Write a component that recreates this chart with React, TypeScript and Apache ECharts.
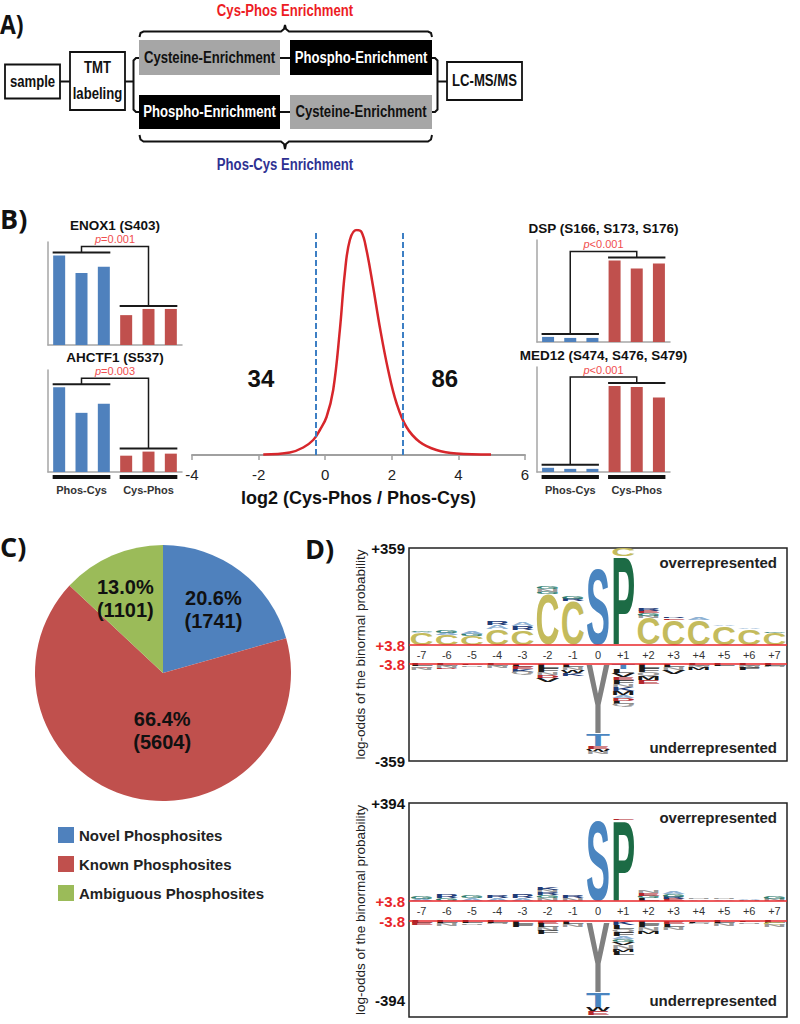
import React, { useEffect, useRef } from "react";
import * as echarts from "echarts";

const FONT = '"Liberation Sans", Arial, Helvetica, sans-serif';
const BLUE = "#4f81bd";
const RED = "#c0504d";
const GREEN = "#9bbb59";

// ---------------- Panel B : bar charts ----------------
const barCategories = ["Phos-Cys 1", "Phos-Cys 2", "Phos-Cys 3", "Cys-Phos 1", "Cys-Phos 2", "Cys-Phos 3"];
const enox1Values = [87, 70, 76, 29, 35, 35];
const ahctf1Values = [83, 58, 67, 16, 20, 18];
const dspValues = [5, 4, 4, 80, 72, 77];
const med12Values = [4, 3, 3, 82, 81, 71];
const barTitles = ["ENOX1 (S403)", "AHCTF1 (S537)", "DSP (S166, S173, S176)", "MED12 (S474, S476, S479)"];
const barPValues = ["p=0.001", "p=0.003", "p<0.001", "p<0.001"];

// ---------------- Panel B : density ----------------
const densityX = [-1.86, -1.06, -0.66, -0.36, -0.16, 0.04, 0.24, 0.44, 0.59, 0.74, 0.94, 1.09, 1.24, 1.44, 1.64, 1.89, 2.14, 2.44, 2.84, 3.34, 3.94, 4.98];
const densityY = [0.001, 0.005, 0.015, 0.03, 0.05, 0.076, 0.13, 0.25, 0.364, 0.43, 0.45, 0.446, 0.41, 0.336, 0.256, 0.17, 0.104, 0.056, 0.026, 0.01, 0.003, 0.001];
const cutoffs = [-0.28, 2.33];
const countLabels = [34, 86];
const xTicks = [-4, -2, 0, 2, 4, 6];

// ---------------- Panel C : pie ----------------
const pieNames = ["Novel Phosphosites", "Known Phosphosites", "Ambiguous Phosphosites"];
const pieValues = [1741, 5604, 1101];

// ---------------- Panel D : sequence logos ----------------
const logoPositions = ["-7", "-6", "-5", "-4", "-3", "-2", "-1", "0", "+1", "+2", "+3", "+4", "+5", "+6", "+7"];

type Stack = [string, number][];
const logo1Up: Stack[] = [
  [["C", 11.5], ["A", 1.8], ["G", 1.5]],
  [["C", 10], ["A", 2], ["G", 2]],
  [["C", 9], ["G", 2], ["A", 2]],
  [["C", 16], ["A", 3.5], ["R", 3.5]],
  [["C", 15], ["R", 4], ["A", 4]],
  [["C", 51], ["G", 2], ["N", 3], ["G", 3]],
  [["C", 43.6], ["R", 2], ["G", 3]],
  [["S", 77]],
  [["P", 89], ["C", 8]],
  [["C", 27], ["N", 2], ["G", 2.5], ["E", 2.5], ["R", 2]],
  [["C", 25], ["E", 1.5], ["R", 1.5]],
  [["C", 25], ["A", 2.5]],
  [["C", 19], ["A", 1.5]],
  [["C", 16], ["A", 1.5]],
  [["C", 12], ["G", 1.5]],
];
const logo1Down: Stack[] = [
  [["L", 2.5], ["E", 1.5], ["N", 2]],
  [["L", 2], ["N", 2], ["D", 1.5]],
  [["L", 1.5], ["N", 1.5]],
  [["L", 2], ["N", 2]],
  [["L", 3], ["E", 2.5], ["K", 2.5], ["Q", 2]],
  [["L", 4], ["F", 4], ["N", 3], ["D", 3], ["V", 3.6]],
  [["L", 3], ["N", 3], ["W", 3], ["K", 3]],
  [["Y", 70], ["T", 12], ["E", 3], ["W", 3], ["N", 2.3]],
  [["T", 5], ["L", 4], ["V", 4], ["E", 3], ["F", 4], ["N", 3], ["K", 4], ["M", 4], ["A", 3], ["D", 3], ["L", 3], ["Q", 2]],
  [["L", 4], ["F", 4], ["Q", 4], ["M", 4], ["E", 4]],
  [["L", 3], ["N", 3], ["V", 3.7]],
  [["L", 2], ["N", 2], ["M", 2]],
  [["L", 2]],
  [["L", 2], ["N", 2], ["F", 2]],
  [["L", 2], ["N", 1.5]],
];
const logo2Up: Stack[] = [
  [["A", 2], ["G", 2]],
  [["G", 2.5], ["R", 3.2]],
  [["A", 2.5], ["G", 2.5]],
  [["A", 3], ["R", 2.7]],
  [["A", 3], ["R", 3.3]],
  [["N", 3], ["G", 3], ["R", 3], ["N", 2], ["K", 3]],
  [["N", 2.5], ["R", 2.2]],
  [["S", 80.7]],
  [["P", 80.7], ["E", 1.5]],
  [["L", 2.5], ["G", 2.5], ["E", 2.5], ["N", 2.5]],
  [["E", 2], ["R", 2], ["G", 2.5], ["A", 2.5]],
  [["A", 1.5], ["N", 1.5]],
  [["A", 1.8], ["N", 1.5]],
  [["N", 1.3], ["A", 1]],
  [["N", 2], ["G", 2.7]],
];
const logo2Down: Stack[] = [
  [["L", 2], ["E", 2.3]],
  [["L", 2.5], ["N", 2.8]],
  [["L", 2], ["N", 1.7]],
  [["L", 2], ["N", 1.3]],
  [["L", 3], ["F", 3]],
  [["E", 3], ["L", 3.3], ["N", 3.5], ["F", 3.5]],
  [["L", 3], ["N", 3]],
  [["Y", 72], ["T", 14.7], ["W", 3.7], ["E", 4]],
  [["K", 4], ["L", 4], ["Q", 3], ["F", 4], ["A", 3], ["G", 3], ["V", 3], ["N", 4], ["M", 3], ["L", 3.3]],
  [["L", 3], ["F", 3], ["N", 3.7], ["M", 3]],
  [["E", 3], ["L", 3], ["N", 2.7]],
  [["L", 1.8], ["N", 1.5]],
  [["L", 2.5], ["N", 2.2]],
  [["L", 1.5], ["N", 1.2]],
  [["L", 2], ["C", 2], ["N", 2]],
];
// axis scale (display units), thresholds and tick labels of the two logos
const logo1Range = 106.5;
const logo1Threshold = 9.5;
const logo1TickValues = [106.5, 9.5, -9.5, -106.5];
const logo1TickLabels = ["+359", "+3.8", "-3.8", "-359"];
const logo2Min = -106;
const logo2Max = 108;
const logo2Threshold = 10;
const logo2TickValues = [108, 10, -10, -89];
const logo2TickLabels = ["+394", "+3.8", "-3.8", "-394"];

const AA_COLOR: Record<string, string> = {
  C: "#c4bb5c", S: "#4a85c0", T: "#4a85c0", P: "#1c6b45", Y: "#808080",
  G: "#2e7d6f", A: "#8fb2d4", R: "#1f3c78", K: "#1f3c78", H: "#1f3c78",
  D: "#b3262b", E: "#b3262b", L: "#1a1a1a", V: "#1a1a1a", I: "#1a1a1a",
  M: "#1a1a1a", F: "#1a1a1a", W: "#1a1a1a", N: "#9a9a9a", Q: "#9a9a9a",
};
const AA_WIDTH: Record<string, number> = {
  C: 0.722, S: 0.667, T: 0.611, P: 0.667, Y: 0.667, G: 0.778, A: 0.722, R: 0.722,
  K: 0.722, H: 0.722, D: 0.722, E: 0.667, L: 0.611, V: 0.667, I: 0.5, M: 0.833,
  F: 0.611, W: 0.944, N: 0.722, Q: 0.778,
};

type Row = [number, number, number, string];
function buildRows(up: Stack[], down: Stack[], base: number): Row[] {
  const rows: Row[] = [];
  up.forEach((stack, i) => {
    let y = base;
    stack.forEach(([l, h]) => {
      rows.push([i, y, y + h, l]);
      y += h;
    });
  });
  down.forEach((stack, i) => {
    let y = -base;
    stack.forEach(([l, h]) => {
      rows.push([i, y - h, y, l]);
      y -= h;
    });
  });
  return rows;
}

function centeredText(text: string, x: number, y: number, size: number, fill: string, weight = "normal") {
  return {
    type: "text",
    x,
    y,
    silent: true,
    style: {
      text,
      fontSize: size,
      fontWeight: weight,
      fontFamily: FONT,
      fill,
      align: "center",
      textAlign: "center",
      verticalAlign: "middle",
      textVerticalAlign: "middle",
    },
  };
}

function letterRenderer(rows: Row[]) {
  return (params: any, api: any) => {
    const r = rows[params.dataIndex];
    const p0 = api.coord([r[0], r[1]]);
    const p1 = api.coord([r[0], r[2]]);
    const bw = api.size([1, 0])[0];
    const h = Math.abs(p0[1] - p1[1]);
    const F = 100;
    const adv = AA_WIDTH[r[3]] ?? 0.7;
    const el: any = centeredText(r[3], p0[0], (p0[1] + p1[1]) / 2, F, AA_COLOR[r[3]] ?? "#333", "bold");
    el.scaleX = (0.95 * bw) / (F * adv);
    el.scaleY = h / (F * 0.716);
    return el;
  };
}

function labelRenderer(labels: (string | number)[], size: number, fill: string, weight: string) {
  return (params: any, api: any) => {
    const p = api.coord([api.value(0), api.value(1)]);
    return centeredText(String(labels[params.dataIndex]), p[0], p[1], size, fill, weight);
  };
}

function bracketRenderer(values: number[], title: string, pText: string, isBottom: boolean) {
  return (params: any, api: any) => {
    const cs = params.coordSys;
    const xs = values.map((_, i) => api.coord([i, 0])[0]);
    const yBase = api.coord([0, 0])[1];
    const half = 6.5;
    const blueMax = Math.max(...values.slice(0, 3));
    const redMax = Math.max(...values.slice(3));
    const yB = api.coord([0, blueMax])[1] - 3;
    const yR = api.coord([0, redMax])[1] - 3;
    const yTop = Math.min(yB, yR) - 6;
    const pY = yTop - 7;
    const titleY = Math.min(cs.y - 12, pY - 14);
    const ls = { stroke: "#1a1a1a", lineWidth: 2, fill: null };
    const pColor = "#f04e4e";
    const children: any[] = [
      { type: "line", shape: { x1: xs[0] - half, y1: yB, x2: xs[2] + half, y2: yB }, style: ls },
      { type: "line", shape: { x1: xs[3] - half, y1: yR, x2: xs[5] + half, y2: yR }, style: ls },
      {
        type: "polyline",
        shape: { points: [[xs[1], yB], [xs[1], yTop], [xs[4], yTop], [xs[4], yR]] },
        style: { stroke: "#1a1a1a", lineWidth: 1.5, fill: null },
      },
      {
        type: "text",
        x: (xs[1] + xs[4]) / 2,
        y: pY,
        style: {
          text: `{i|p}{n|${pText.slice(1)}}`,
          rich: {
            i: { fontSize: 11, fontStyle: "italic", fontFamily: FONT, fill: pColor },
            n: { fontSize: 11, fontFamily: FONT, fill: pColor },
          },
          align: "center",
          textAlign: "center",
          verticalAlign: "middle",
          textVerticalAlign: "middle",
        },
      },
      centeredText(title, cs.x + cs.width / 2, titleY, 13.5, "#111", "bold"),
    ];
    if (isBottom) {
      const thick = { stroke: "#111", lineWidth: 4, fill: null };
      children.push({ type: "line", shape: { x1: xs[0] - half, y1: yBase + 5, x2: xs[2] + half, y2: yBase + 5 }, style: thick });
      children.push({ type: "line", shape: { x1: xs[3] - half, y1: yBase + 5, x2: xs[5] + half, y2: yBase + 5 }, style: thick });
    }
    return { type: "group", children };
  };
}

function txt(text: string, x: number, y: number, o: any = {}) {
  const align = o.align ?? "center";
  return {
    type: "text",
    x,
    y,
    scaleX: o.sx ?? 1,
    silent: true,
    style: {
      text,
      fill: o.fill ?? "#111",
      fontSize: o.size ?? 16,
      fontWeight: o.weight ?? "bold",
      fontFamily: o.family ?? FONT,
      align,
      textAlign: align,
      verticalAlign: "middle",
      textVerticalAlign: "middle",
    },
  };
}

function buildOption(): any {
  const NARROW = 0.82;
  const lineS = { stroke: "#111", lineWidth: 2, fill: null };
  const boxS = { stroke: "#111", lineWidth: 1.8, fill: "#fff" };
  const PANEL_FONT = '"Open Sans", ' + FONT;
  const graphics: any[] = [
    // panel letters
    txt("A)", 0, 23, { size: 27, align: "left", family: PANEL_FONT, sx: 0.85 }),
    txt("B)", 0, 218, { size: 27, align: "left", family: PANEL_FONT }),
    txt("C)", 0, 546, { size: 27, align: "left", family: PANEL_FONT }),
    txt("D)", 305, 548, { size: 27, align: "left", family: PANEL_FONT }),
    // panel A
    txt("Cys-Phos Enrichment", 285, 11, { fill: "#ed1c24", sx: NARROW }),
    txt("Phos-Cys Enrichment", 285, 165, { fill: "#2e3192", sx: NARROW }),
    {
      type: "polyline", silent: true,
      shape: { points: [[139.5, 37], [140.5, 33], [143.5, 31.5], [281, 31.5], [284, 29], [285, 25], [286, 29], [289, 31.5], [428, 31.5], [431, 33], [432, 37]] },
      style: lineS,
    },
    {
      type: "polyline", silent: true,
      shape: { points: [[139.5, 135], [140.5, 139.5], [143.5, 141.5], [281, 141.5], [284, 144], [285, 149], [286, 144], [289, 141.5], [428, 141.5], [431, 139.5], [432, 135]] },
      style: lineS,
    },
    { type: "rect", silent: true, shape: { x: 5, y: 64.5, width: 55, height: 34 }, style: boxS },
    txt("sample", 32.5, 81.5, { sx: NARROW }),
    { type: "line", silent: true, shape: { x1: 60, y1: 81.5, x2: 70, y2: 81.5 }, style: lineS },
    { type: "rect", silent: true, shape: { x: 70, y: 52, width: 55, height: 58 }, style: boxS },
    txt("TMT", 97.5, 68, { sx: NARROW }),
    txt("labeling", 97.5, 94, { sx: NARROW }),
    { type: "line", silent: true, shape: { x1: 125, y1: 81.5, x2: 133.5, y2: 81.5 }, style: lineS },
    {
      type: "polyline", silent: true,
      shape: { points: [[139, 58], [136, 58], [133.5, 60.5], [133.5, 109.5], [136, 112], [139, 112]] },
      style: lineS,
    },
    { type: "rect", silent: true, shape: { x: 139, y: 40, width: 141, height: 35 }, style: { fill: "#a6a6a6" } },
    txt("Cysteine-Enrichment", 209.5, 57.5, { sx: NARROW }),
    { type: "line", silent: true, shape: { x1: 280, y1: 58, x2: 290, y2: 58 }, style: lineS },
    { type: "rect", silent: true, shape: { x: 290, y: 40, width: 142, height: 35 }, style: { fill: "#000" } },
    txt("Phospho-Enrichment", 361, 57.5, { sx: NARROW, fill: "#fff" }),
    { type: "rect", silent: true, shape: { x: 139, y: 95, width: 141, height: 34 }, style: { fill: "#000" } },
    txt("Phospho-Enrichment", 209.5, 112, { sx: NARROW, fill: "#fff" }),
    { type: "line", silent: true, shape: { x1: 280, y1: 112, x2: 290, y2: 112 }, style: lineS },
    { type: "rect", silent: true, shape: { x: 290, y: 95, width: 142, height: 34 }, style: { fill: "#a6a6a6" } },
    txt("Cysteine-Enrichment", 361, 112, { sx: NARROW }),
    {
      type: "polyline", silent: true,
      shape: { points: [[432, 58], [435, 58], [437.5, 60.5], [437.5, 109.5], [435, 112], [432, 112]] },
      style: lineS,
    },
    { type: "line", silent: true, shape: { x1: 437.5, y1: 81.5, x2: 447, y2: 81.5 }, style: lineS },
    { type: "rect", silent: true, shape: { x: 447, y: 62, width: 75, height: 38 }, style: boxS },
    txt("LC-MS/MS", 484.5, 81, { sx: NARROW }),
    // panel D annotations
    txt("overrepresented", 777, 562, { size: 15, align: "right", fill: "#222" }),
    txt("underrepresented", 777, 747, { size: 15, align: "right", fill: "#222" }),
    txt("overrepresented", 777, 817, { size: 15, align: "right", fill: "#222" }),
    txt("underrepresented", 777, 1000, { size: 15, align: "right", fill: "#222" }),
  ];

  const barDefs = [
    { values: enox1Values, grid: { left: 48, top: 242, width: 134, height: 103 }, bottom: false },
    { values: ahctf1Values, grid: { left: 48, top: 370, width: 134, height: 102 }, bottom: true },
    { values: dspValues, grid: { left: 537, top: 240, width: 133, height: 102 }, bottom: false },
    { values: med12Values, grid: { left: 537, top: 367, width: 133, height: 105 }, bottom: true },
  ];

  const grids: any[] = [];
  const xAxes: any[] = [];
  const yAxes: any[] = [];
  const series: any[] = [];
  const axisGray = { color: "#a6a6a6", width: 1.5 };

  barDefs.forEach((d, k) => {
    grids.push({ ...d.grid, outerBoundsMode: "none" });
    xAxes.push({
      gridIndex: k,
      type: "category",
      data: barCategories,
      axisLine: { show: true, lineStyle: axisGray },
      axisTick: { show: false },
      axisLabel: d.bottom
        ? {
            show: true,
            interval: (i: number) => i === 1 || i === 4,
            formatter: (v: string) => v.split(" ")[0],
            fontSize: 11,
            fontWeight: "bold",
            fontFamily: FONT,
            color: "#333",
            margin: 12,
          }
        : { show: false },
      splitLine: { show: false },
    });
    yAxes.push({
      gridIndex: k,
      type: "value",
      min: 0,
      max: 100,
      axisLine: { show: true, lineStyle: axisGray },
      axisTick: { show: false },
      axisLabel: { show: false },
      splitLine: { show: false },
    });
    series.push({
      type: "bar",
      xAxisIndex: k,
      yAxisIndex: k,
      barWidth: 12,
      silent: true,
      data: d.values.map((v, i) => ({ value: v, itemStyle: { color: i < 3 ? BLUE : RED } })),
    });
    series.push({
      type: "custom",
      xAxisIndex: k,
      yAxisIndex: k,
      silent: true,
      clip: false,
      z: 5,
      data: [[0, 0]],
      renderItem: bracketRenderer(d.values, barTitles[k], barPValues[k], d.bottom),
    });
  });

  // density grid (index 4)
  grids.push({ left: 192, top: 230, width: 333, height: 225, outerBoundsMode: "none" });
  xAxes.push({
    gridIndex: 4,
    type: "value",
    min: xTicks[0],
    max: xTicks[xTicks.length - 1],
    interval: 2,
    axisLine: { show: true, lineStyle: { color: "#a0a0a0", width: 2 } },
    axisTick: { show: true, length: 5, lineStyle: { color: "#a0a0a0", width: 1.5 } },
    axisLabel: { fontSize: 15, fontFamily: FONT, color: "#222", margin: 12 },
    splitLine: { show: false },
    name: "log2 (Cys-Phos / Phos-Cys)",
    nameLocation: "middle",
    nameGap: 34,
    nameTextStyle: { fontSize: 18, fontWeight: "bold", fontFamily: FONT, color: "#111" },
  });
  yAxes.push({ gridIndex: 4, type: "value", min: 0, max: 0.45, show: false });
  series.push({
    type: "line",
    xAxisIndex: 4,
    yAxisIndex: 4,
    smooth: 0.4,
    symbol: "none",
    silent: true,
    lineStyle: { color: "#d7262b", width: 2.5 },
    data: densityX.map((x, i) => [x, densityY[i]]),
    markLine: {
      silent: true,
      symbol: ["none", "none"],
      label: { show: false },
      lineStyle: { type: [6, 3], color: "#3d7fc4", width: 2 },
      data: cutoffs.map((c) => ({ xAxis: c })),
    },
  });
  const countAnchors = [[-1.93, 0.154], [3.59, 0.154]];
  series.push({
    type: "custom",
    xAxisIndex: 4,
    yAxisIndex: 4,
    silent: true,
    clip: false,
    data: countAnchors,
    renderItem: labelRenderer(countLabels, 24, "#111", "bold"),
  });

  // logos (grid 5 and 6)
  const logoDefs = [
    {
      grid: { left: 409, top: 548, width: 378, height: 213 },
      min: -logo1Range, max: logo1Range, thr: logo1Threshold,
      tickValues: logo1TickValues, tickLabels: logo1TickLabels,
      rows: buildRows(logo1Up, logo1Down, logo1Threshold),
    },
    {
      grid: { left: 409, top: 803, width: 378, height: 214 },
      min: logo2Min, max: logo2Max, thr: logo2Threshold,
      tickValues: logo2TickValues, tickLabels: logo2TickLabels,
      rows: buildRows(logo2Up, logo2Down, logo2Threshold),
    },
  ];
  logoDefs.forEach((d, j) => {
    const gi = 5 + j;
    grids.push({ ...d.grid, show: true, borderColor: "#222", borderWidth: 1.5, backgroundColor: "transparent", outerBoundsMode: "none" });
    xAxes.push({
      gridIndex: gi,
      type: "category",
      data: logoPositions,
      axisLine: { show: false },
      axisTick: { show: false },
      axisLabel: { show: false },
      splitLine: { show: false },
    });
    yAxes.push({
      gridIndex: gi,
      type: "value",
      min: d.min,
      max: d.max,
      axisLine: { show: false },
      axisTick: { show: false },
      splitLine: { show: false },
      axisLabel: {
        show: true,
        customValues: d.tickValues,
        formatter: (v: number) => {
          const idx = d.tickValues.findIndex((t) => Math.abs(t - Number(v)) < 1e-6);
          return idx >= 0 ? d.tickLabels[idx] : "";
        },
        color: (v: any) => (Math.abs(Number(v)) < 20 ? "#e8262a" : "#111"),
        fontSize: 15,
        fontWeight: "bold",
        fontFamily: FONT,
        margin: 4,
      },
      name: "log-odds of the binormal probability",
      nameLocation: "middle",
      nameGap: 38,
      nameRotate: 90,
      nameTextStyle: { fontSize: 13.5, fontFamily: FONT, color: "#222" },
    });
    series.push({
      type: "custom",
      xAxisIndex: gi,
      yAxisIndex: gi,
      silent: true,
      clip: false,
      encode: { x: 0, y: [1, 2] },
      data: d.rows.map((r) => [r[0], r[1], r[2]]),
      renderItem: letterRenderer(d.rows),
      z: 3,
    });
    series.push({
      type: "custom",
      xAxisIndex: gi,
      yAxisIndex: gi,
      silent: true,
      clip: false,
      data: logoPositions.map((_, i) => [i, 0]),
      renderItem: labelRenderer(logoPositions, 11, "#333", "normal"),
      z: 4,
    });
    series.push({
      type: "scatter",
      xAxisIndex: gi,
      yAxisIndex: gi,
      symbolSize: 0,
      silent: true,
      itemStyle: { color: "transparent" },
      data: logoPositions.map((_, i) => [i, 0]),
      markLine: {
        silent: true,
        symbol: ["none", "none"],
        label: { show: false },
        lineStyle: { type: "solid", color: "#e8262a", width: 1.5 },
        data: [{ yAxis: d.thr }, { yAxis: -d.thr }],
      },
      z: 4,
    });
  });

  const pieLabelShift = [[10, -10], [15, -8], [-11, -13]];
  series.push({
    type: "pie",
    center: [163, 673],
    radius: 128,
    startAngle: 90,
    clockwise: true,
    silent: true,
    percentPrecision: 3,
    avoidLabelOverlap: false,
    labelLine: { show: false },
    label: {
      show: true,
      position: "inside",
      formatter: (p: any) => `${p.percent.toFixed(1)}%\n(${p.value})`,
      fontSize: 20,
      lineHeight: 23,
      fontWeight: "bold",
      fontFamily: FONT,
      color: "#111",
    },
    labelLayout: (p: any) => ({ dx: pieLabelShift[p.dataIndex][0], dy: pieLabelShift[p.dataIndex][1] }),
    data: pieNames.map((n, i) => ({ name: n, value: pieValues[i], itemStyle: { color: [BLUE, RED, GREEN][i] } })),
  });

  return {
    animation: false,
    backgroundColor: "#fff",
    legend: {
      data: pieNames,
      orient: "vertical",
      left: 53,
      top: 822,
      itemWidth: 16,
      itemHeight: 16,
      itemGap: 13,
      icon: "rect",
      selectedMode: false,
      textStyle: { fontSize: 15, fontWeight: "bold", fontFamily: FONT, color: "#222" },
    },
    grid: grids,
    xAxis: xAxes,
    yAxis: yAxes,
    series,
    graphic: { elements: graphics },
  };
}

export default function App() {
  const ref = useRef<HTMLDivElement>(null);
  useEffect(() => {
    if (!ref.current) return;
    const chart = echarts.init(ref.current, null, { renderer: "svg" });
    chart.setOption(buildOption());
    return () => chart.dispose();
  }, []);
  return (
    <div
      ref={ref}
      style={{ position: "absolute", left: 0, top: 0, width: 800, height: 1024, background: "#fff" }}
    />
  );
}
